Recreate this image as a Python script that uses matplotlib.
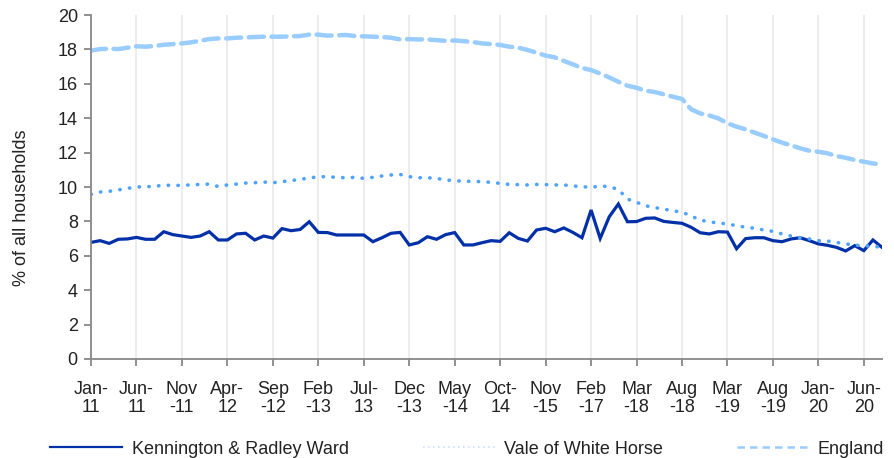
import matplotlib.pyplot as plt
from matplotlib.lines import Line2D

plt.rcParams['font.family'] = ['Liberation Sans', 'DejaVu Sans']

# tick labels (every 5th category on the axis)
tick_labels = ['Jan-\n11', 'Jun-\n11', 'Nov\n-11', 'Apr-\n12', 'Sep\n-12', 'Feb\n-13',
               'Jul-\n13', 'Dec\n-13', 'May\n-14', 'Oct-\n14', 'Nov\n-15', 'Feb\n-17',
               'Mar\n-18', 'Aug\n-18', 'Mar\n-19', 'Aug\n-19', 'Jan-\n20', 'Jun-\n20']

kennington = [6.78, 6.88, 6.72, 6.96, 6.98, 7.07, 6.96, 6.96, 7.40, 7.23,
              7.15, 7.07, 7.15, 7.40, 6.92, 6.92, 7.27, 7.31, 6.92, 7.15,
              7.03, 7.58, 7.46, 7.53, 7.98, 7.36, 7.35, 7.21, 7.21, 7.21,
              7.21, 6.82, 7.05, 7.31, 7.36, 6.63, 6.76, 7.11, 6.96, 7.23,
              7.35, 6.63, 6.63, 6.76, 6.88, 6.84, 7.34, 7.01, 6.86, 7.50,
              7.60, 7.40, 7.62, 7.36, 7.05, 8.66, 7.01, 8.27, 9.01, 7.98,
              7.99, 8.18, 8.20, 8.00, 7.94, 7.89, 7.66, 7.34, 7.27, 7.40,
              7.38, 6.41, 7.00, 7.05, 7.05, 6.88, 6.82, 6.98, 7.05, 6.88,
              6.69, 6.61, 6.49, 6.28, 6.59, 6.30, 6.92, 6.49]

vale = [9.57, 9.71, 9.75, 9.83, 9.92, 10.00, 10.02, 10.03, 10.12, 10.08,
        10.10, 10.12, 10.15, 10.17, 10.03, 10.12, 10.17, 10.23, 10.25, 10.29,
        10.25, 10.31, 10.37, 10.45, 10.52, 10.60, 10.60, 10.56, 10.54, 10.56,
        10.50, 10.56, 10.64, 10.70, 10.73, 10.60, 10.54, 10.54, 10.50, 10.41,
        10.37, 10.33, 10.33, 10.31, 10.27, 10.21, 10.15, 10.14, 10.12, 10.15,
        10.14, 10.12, 10.12, 10.06, 10.02, 9.98, 10.06, 10.02, 9.86, 9.30,
        9.11, 8.91, 8.80, 8.72, 8.61, 8.55, 8.31, 8.08, 7.97, 7.91,
        7.85, 7.75, 7.66, 7.60, 7.50, 7.42, 7.27, 7.15, 7.05, 6.98,
        6.88, 6.86, 6.78, 6.69, 6.63, 6.57, 6.57, 6.47]

england = [17.93, 18.02, 18.04, 18.02, 18.10, 18.18, 18.16, 18.20, 18.27, 18.31,
           18.35, 18.41, 18.50, 18.60, 18.64, 18.64, 18.68, 18.70, 18.72, 18.74,
           18.74, 18.74, 18.76, 18.78, 18.86, 18.86, 18.80, 18.82, 18.84, 18.78,
           18.76, 18.74, 18.72, 18.68, 18.58, 18.60, 18.58, 18.58, 18.54, 18.50,
           18.52, 18.48, 18.43, 18.35, 18.31, 18.26, 18.16, 18.10, 17.97, 17.81,
           17.64, 17.54, 17.33, 17.13, 16.92, 16.80, 16.60, 16.37, 16.12, 15.89,
           15.77, 15.60, 15.52, 15.39, 15.25, 15.12, 14.52, 14.28, 14.16, 13.99,
           13.70, 13.51, 13.35, 13.16, 12.97, 12.77, 12.58, 12.42, 12.25, 12.11,
           12.05, 11.96, 11.80, 11.70, 11.57, 11.47, 11.37, 11.30]

dark = '#0230A8'
mid = '#4DA3FF'
light = '#99CCFF'
fs = 13

fig = plt.figure(figsize=(8.95, 4.58), dpi=100)
ax = fig.add_axes([0.1017, 0.2162, 0.8838, 0.751])

x = list(range(len(kennington)))
ax.plot(x, kennington, color=dark, lw=2.3, solid_joinstyle='miter')
ax.plot(x, vale, color=mid, lw=2.6, linestyle=(0, (0.1, 2.6)), dash_capstyle='round')
ax.plot(x, england, color=light, lw=3.2, linestyle=(0, (3.4, 1.7)), dash_capstyle='round')

ticks = list(range(0, 5 * len(tick_labels), 5))
ax.set_xticks(ticks)
ax.set_xticklabels(tick_labels, fontsize=fs, color='#222222', linespacing=1.05)
ax.set_xlim(0, 87)
ax.set_ylim(0, 20)
ax.set_yticks(range(0, 21, 2))
ax.tick_params(axis='y', labelsize=fs, labelcolor='#222222', color='#888888',
               length=5, width=1.3, pad=4.5)
ax.tick_params(axis='x', color='#888888', length=5, width=1.3, pad=11)
ax.xaxis.grid(True, color='#EBEBEB', lw=1.3)
ax.set_axisbelow(True)
for s in ['top', 'right']:
    ax.spines[s].set_visible(False)
for s in ['left', 'bottom']:
    ax.spines[s].set_color('#888888')
    ax.spines[s].set_linewidth(1.3)

ax.set_ylabel('% of all households', fontsize=fs, color='#222222')
ax.yaxis.set_label_coords(-0.077, 0.44)

handles = [Line2D([], [], color=dark, lw=1.6),
           Line2D([], [], color='#C8E2FF', lw=1.2, linestyle=(0, (1, 2))),
           Line2D([], [], color=light, lw=1.8, linestyle=(0, (3, 2)))]
names = ['Kennington & Radley Ward', 'Vale of White Horse', 'England']
fig.legend(handles, names, loc='lower left', bbox_to_anchor=(0.038, -0.035), ncol=3,
           frameon=False, fontsize=fs, handlelength=4.0, handletextpad=0.5,
           columnspacing=4.1, labelcolor='#222222')

fig.savefig('out.png', dpi=100)
